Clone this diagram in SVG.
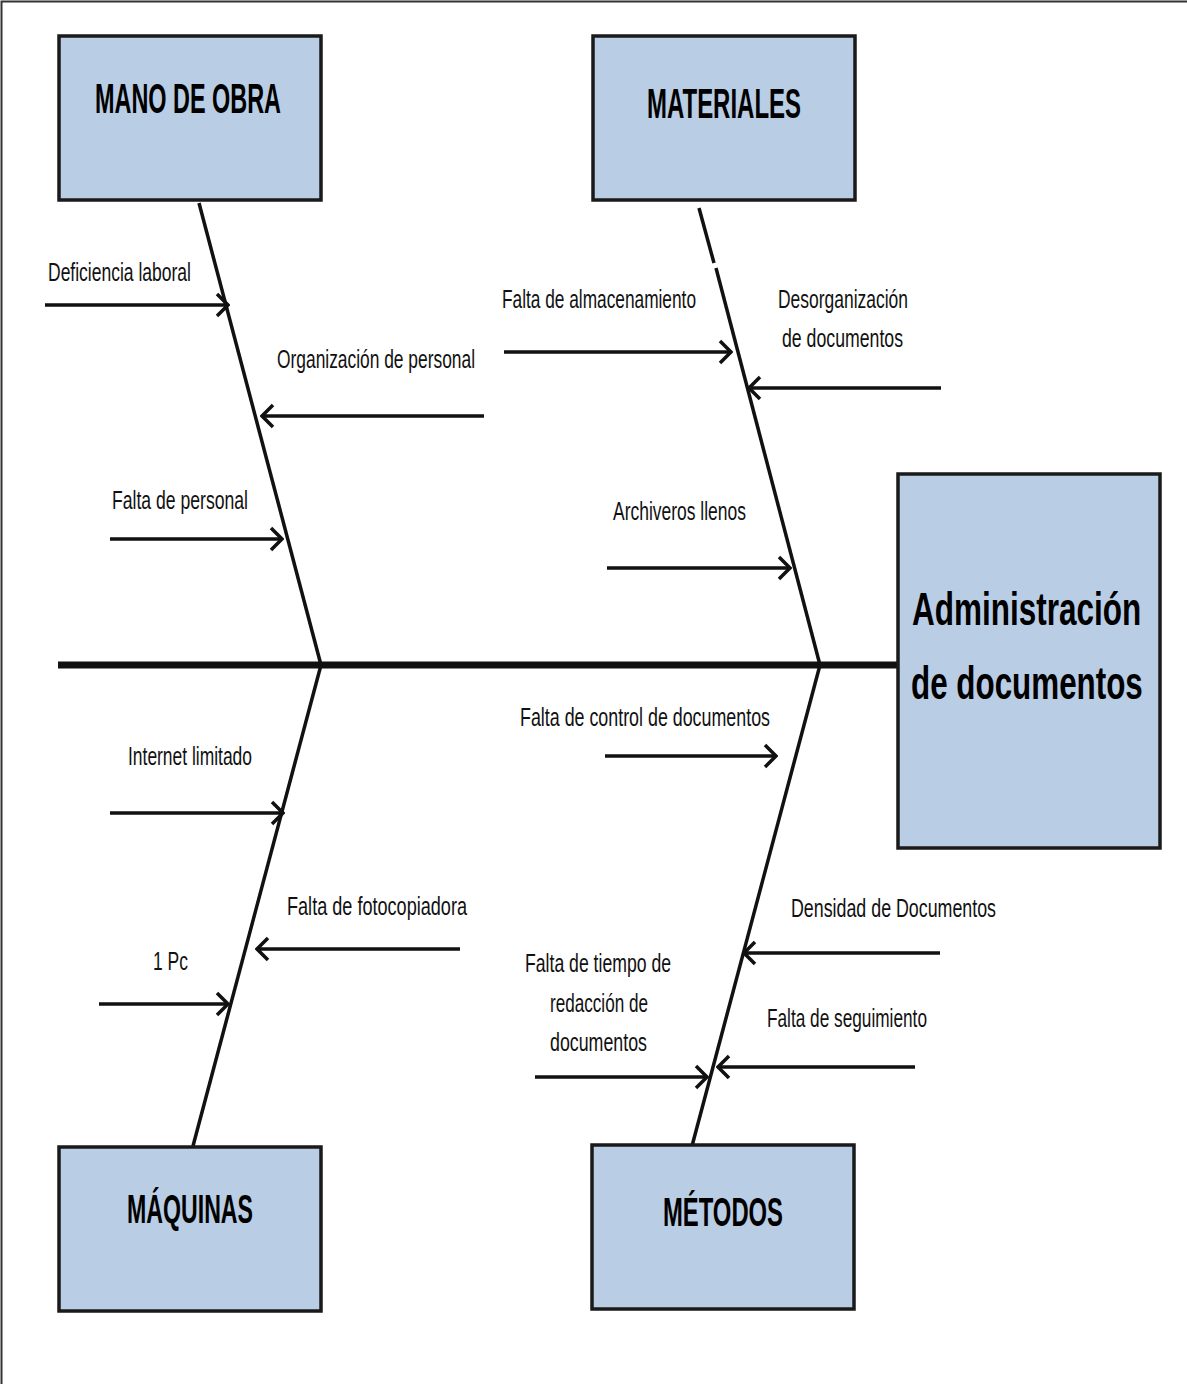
<svg xmlns="http://www.w3.org/2000/svg" width="1187" height="1384" viewBox="0 0 1187 1384">
<style>
.box{fill:#b9cde4;stroke:#1a1a1a;stroke-width:3.5}
.title{font-family:"Liberation Sans",Arial,sans-serif;font-weight:bold;fill:#000}
.lbl{font-family:"Liberation Sans",Arial,sans-serif;font-size:25px;fill:#111}
.bone{stroke:#111;stroke-width:3.5;fill:none;stroke-linecap:butt}
.arr{stroke:#111;stroke-width:3.5;fill:none;marker-end:url(#ah)}
</style>
<defs>
<marker id="ah" markerUnits="userSpaceOnUse" viewBox="-14 -14 16 28" markerWidth="16" markerHeight="28" refX="0" refY="0" orient="auto">
<path d="M-11,-11 L0,0 L-11,11" fill="none" stroke="#111" stroke-width="3.5"/>
</marker>
</defs>
<rect x="0" y="0" width="1187" height="1384" fill="#fff"/>
<path d="M1.5,1384 V1.5 H1187" fill="none" stroke="#333" stroke-width="2"/>

<g id="connectors">
<line class="bone" x1="58" y1="665" x2="898" y2="665" style="stroke-width:7"/>
<line class="bone" x1="199" y1="203" x2="321" y2="665"/>
<line class="bone" x1="699" y1="208" x2="714" y2="263"/>
<line class="bone" x1="716" y1="268" x2="820" y2="665"/>
<line class="bone" x1="321" y1="665" x2="193" y2="1146"/>
<line class="bone" x1="820" y1="665" x2="692" y2="1146"/>
<line class="arr" x1="45" y1="305" x2="228" y2="305"/>
<line class="arr" x1="484" y1="416" x2="262" y2="416"/>
<line class="arr" x1="110" y1="539" x2="282" y2="539"/>
<line class="arr" x1="504" y1="352" x2="731" y2="352"/>
<line class="arr" x1="941" y1="388" x2="749" y2="388"/>
<line class="arr" x1="607" y1="568" x2="790" y2="568"/>
<line class="arr" x1="605" y1="756" x2="776" y2="756"/>
<line class="arr" x1="940" y1="953" x2="744" y2="953"/>
<line class="arr" x1="915" y1="1067" x2="718" y2="1067"/>
<line class="arr" x1="535" y1="1077" x2="707" y2="1077"/>
<line class="arr" x1="110" y1="813" x2="283" y2="813"/>
<line class="arr" x1="460" y1="949" x2="257" y2="949"/>
<line class="arr" x1="99" y1="1004" x2="228" y2="1004"/>
</g>

<g id="mano-de-obra">
<rect class="box" x="59" y="36" width="262" height="164"/>
<text class="title" x="95" y="113" font-size="43" textLength="186" lengthAdjust="spacingAndGlyphs">MANO DE OBRA</text>
</g>
<g id="materiales">
<rect class="box" x="593" y="36" width="262" height="164"/>
<text class="title" x="647" y="118" font-size="43" textLength="154" lengthAdjust="spacingAndGlyphs">MATERIALES</text>
</g>
<g id="maquinas">
<rect class="box" x="59" y="1147" width="262" height="164"/>
<text class="title" x="127" y="1223" font-size="41" textLength="126" lengthAdjust="spacingAndGlyphs">MÁQUINAS</text>
</g>
<g id="metodos">
<rect class="box" x="592" y="1145" width="262" height="164"/>
<text class="title" x="663" y="1226" font-size="41" textLength="120" lengthAdjust="spacingAndGlyphs">MÉTODOS</text>
</g>
<g id="efecto">
<rect class="box" x="898" y="474" width="262" height="374"/>
<text class="title" transform="translate(912,625) scale(0.67,1)" x="0" y="0" font-size="47" textLength="342" lengthAdjust="spacingAndGlyphs">Administración</text>
<text class="title" transform="translate(911,699) scale(0.67,1)" x="0" y="0" font-size="47" textLength="346" lengthAdjust="spacingAndGlyphs">de documentos</text>
</g>

<g id="labels">
<text class="lbl" x="48" y="281" textLength="143" lengthAdjust="spacingAndGlyphs">Deficiencia laboral</text>
<text class="lbl" x="277" y="368" textLength="198" lengthAdjust="spacingAndGlyphs">Organización de personal</text>
<text class="lbl" x="112" y="509" textLength="136" lengthAdjust="spacingAndGlyphs">Falta de personal</text>
<text class="lbl" x="502" y="308" textLength="194" lengthAdjust="spacingAndGlyphs">Falta de almacenamiento</text>
<text class="lbl" x="778" y="308" textLength="130" lengthAdjust="spacingAndGlyphs">Desorganización</text>
<text class="lbl" x="782" y="347" textLength="121" lengthAdjust="spacingAndGlyphs">de documentos</text>
<text class="lbl" x="613" y="520" textLength="133" lengthAdjust="spacingAndGlyphs">Archiveros llenos</text>
<text class="lbl" x="520" y="726" textLength="250" lengthAdjust="spacingAndGlyphs">Falta de control de documentos</text>
<text class="lbl" x="791" y="917" textLength="205" lengthAdjust="spacingAndGlyphs">Densidad de Documentos</text>
<text class="lbl" x="767" y="1027" textLength="160" lengthAdjust="spacingAndGlyphs">Falta de seguimiento</text>
<text class="lbl" x="525" y="972" textLength="146" lengthAdjust="spacingAndGlyphs">Falta de tiempo de</text>
<text class="lbl" x="550" y="1012" textLength="98" lengthAdjust="spacingAndGlyphs">redacción de</text>
<text class="lbl" x="550" y="1051" textLength="97" lengthAdjust="spacingAndGlyphs">documentos</text>
<text class="lbl" x="128" y="765" textLength="124" lengthAdjust="spacingAndGlyphs">Internet limitado</text>
<text class="lbl" x="287" y="915" textLength="180" lengthAdjust="spacingAndGlyphs">Falta de fotocopiadora</text>
<text class="lbl" x="153" y="970" textLength="35" lengthAdjust="spacingAndGlyphs">1 Pc</text>
</g>
</svg>
